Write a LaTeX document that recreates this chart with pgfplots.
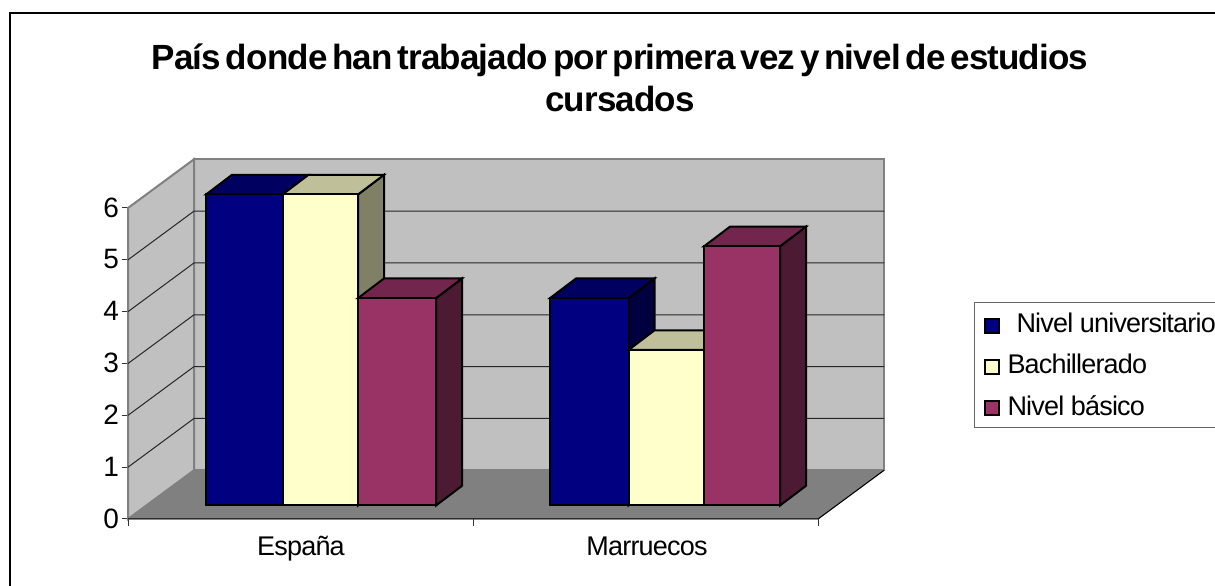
\documentclass[border=0pt]{standalone}
\usepackage{fontspec}
\setmainfont{Liberation Sans}
\newfontfamily\tightfont[LetterSpace=-3]{Liberation Sans}
\newfontfamily\titlefont[LetterSpace=-2.5,WordSpace=0.55]{Liberation Sans}
\usepackage{pgfplots}
\pgfplotsset{compat=1.18}
\definecolor{navyf}{HTML}{000080}
\definecolor{navyt}{HTML}{000060}
\definecolor{navys}{HTML}{000040}
\definecolor{creamf}{HTML}{FFFFCC}
\definecolor{creamt}{HTML}{BFBF99}
\definecolor{creams}{HTML}{808066}
\definecolor{plumf}{HTML}{993366}
\definecolor{plumt}{HTML}{73264D}
\definecolor{plums}{HTML}{4D1A33}
\definecolor{wall}{HTML}{C0C0C0}
\definecolor{floorc}{HTML}{808080}

% front faces stand 13pt above the axis floor line
\pgfplotsset{
  face/.style={forget plot, draw=black, line width=2pt, line join=miter, yshift=13.5pt, mark=none},
  front/.style={forget plot, ybar, bar shift=0pt, bar width=#1, draw=black, line width=2pt, yshift=13.5pt, mark=none},
}

\begin{document}
\begin{tikzpicture}[x=1pt,y=1pt]
\useasboundingbox (0,0) rectangle (1215,586);
\fill[white] (0,0) rectangle (1215,586);
\draw[black, line width=2pt] (9.5,-5) -- (9.5,572.5) -- (1225,572.5);
\begin{axis}[
    at={(128pt,67pt)}, anchor=south west,
    scale only axis, width=690pt, height=311pt,
    xmin=128, xmax=818, ymin=0, ymax=6,
    clip=false,
    axis x line*=bottom, axis y line*=left,
    axis line style={-, black!85, line width=1pt},
    xtick={301,647}, xticklabels={España,Marruecos},
    minor xtick={128,473,818},
    ytick={0,1,2,3,4,5,6},
    major x tick style={draw=none},
    tick style={black!80, line width=1pt},
    major tick length=6pt, minor tick length=7pt,
    tick align=outside,
    /pgf/number format/assume math mode=true,
    xticklabel style={font=\tightfont\fontsize{27}{30}\selectfont, text height=20pt, text depth=6pt, yshift=-7pt},
    yticklabel style={font=\fontsize{28}{30}\selectfont, xshift=0.5pt, yshift=0.5pt},
    title={País donde han trabajado por primera vez y nivel de estudios\\cursados},
    title style={at={(0.713,1.40)}, anchor=center, align=center,
      font=\titlefont\bfseries\fontsize{35}{42}\selectfont},
    legend style={at={(axis cs:974,4.19)}, anchor=north west, draw=black!60, line width=1pt,
      font=\tightfont\fontsize{27}{30}\selectfont, row sep=16pt, inner xsep=9pt, inner ysep=9pt,
      legend cell align=left, fill=white},
    legend image code/.code={\draw[#1, draw=black, line width=2pt] (0pt,-9pt) rectangle (14pt,5pt);},
]
% walls and floor
\addplot[forget plot, fill=wall, draw=floorc, line width=2pt] coordinates {(194,0.94)(884,0.94)(884,6.94)(194,6.94)} --cycle;
\addplot[forget plot, fill=wall, draw=floorc, line width=2pt] coordinates {(128,0)(194,0.94)(194,6.94)(128,6)} --cycle;
\addplot[forget plot, fill=floorc, draw=floorc, line width=1pt] coordinates {(128,0)(818,0)(884,0.94)(194,0.94)} --cycle;
% gridlines
\foreach \v/\w in {1/1.94,2/2.94,3/3.94,4/4.94,5/5.94}{
  \edef\tmp{\noexpand\addplot[forget plot, black!85, line width=1pt] coordinates {(128,\v)(194,\w)(884,\w)};}\tmp
}
\addplot[forget plot, black, line width=1pt] coordinates {(128,0)(818,0)(884,0.94)};

% Espana
\addplot[face, fill=navyt] coordinates {(206,6)(282.5,6)(308.5,6.38)(232,6.38)} --cycle;
\addplot[front=76.5pt, fill=navyf] coordinates {(244.25,6)};
\addplot[face, fill=creams] coordinates {(358,0)(384,0.38)(384,6.38)(358,6)} --cycle;
\addplot[face, fill=creamt] coordinates {(282.5,6)(358,6)(384,6.38)(308.5,6.38)} --cycle;
\addplot[front=75.5pt, fill=creamf] coordinates {(320.25,6)};
\addplot[face, fill=plums] coordinates {(436,0)(462,0.38)(462,4.38)(436,4)} --cycle;
\addplot[face, fill=plumt] coordinates {(358,4)(436,4)(462,4.38)(384,4.38)} --cycle;
\addplot[front=78pt, fill=plumf] coordinates {(397,4)};
% Marruecos
\addplot[face, fill=navys] coordinates {(628.5,0)(654.5,0.38)(654.5,4.38)(628.5,4)} --cycle;
\addplot[face, fill=navyt] coordinates {(550,4)(628.5,4)(654.5,4.38)(576,4.38)} --cycle;
\addplot[front=78.5pt, fill=navyf] coordinates {(589.25,4)};
\addplot[face, fill=creamt] coordinates {(628.5,3)(704,3)(730,3.38)(654.5,3.38)} --cycle;
\addplot[front=75.5pt, fill=creamf] coordinates {(666.25,3)};
\addplot[face, fill=plums] coordinates {(780,0)(806,0.38)(806,5.38)(780,5)} --cycle;
\addplot[face, fill=plumt] coordinates {(704,5)(780,5)(806,5.38)(730,5.38)} --cycle;
\addplot[front=76pt, fill=plumf] coordinates {(742,5)};

\addlegendimage{fill=navyf}
\addlegendentry{\hspace{15pt}Nivel universitario}
\addlegendimage{fill=creamf}
\addlegendentry{\hspace{6pt}Bachillerado}
\addlegendimage{fill=plumf}
\addlegendentry{\hspace{6pt}Nivel básico}
\end{axis}
\end{tikzpicture}
\end{document}
